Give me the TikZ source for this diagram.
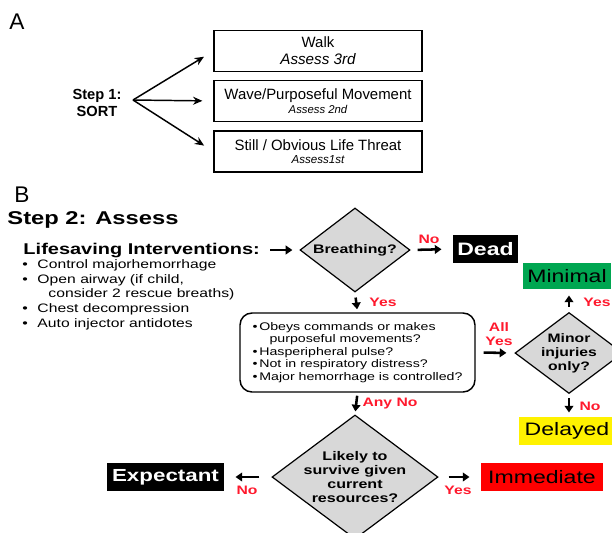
\documentclass[tikz,border=0pt]{standalone}
\usepackage{fontspec}
\setmainfont{Liberation Sans}
\newfontfamily\widefont[FakeStretch=1.28]{Liberation Sans}
\usetikzlibrary{shapes.geometric,arrows.meta}
\definecolor{diagray}{RGB}{216,216,216}
\definecolor{mingreen}{RGB}{0,166,81}
\definecolor{lblred}{RGB}{255,25,45}

\tikzset{every picture/.style={line width=0.75pt}}
\tikzset{
  sortbox/.style={draw, line width=0.9pt, minimum width=156pt, minimum height=30.75pt, align=center, inner sep=0pt},
  decide/.style={diamond, draw, fill=diagray, line width=0.9pt, inner sep=-3pt, align=center},
  catbox/.style={minimum height=21pt, inner sep=0pt, font=\widefont\fontsize{13.5}{16}\selectfont},
  lbl/.style={text=lblred, inner sep=0pt, align=center, font=\widefont\bfseries\fontsize{9.2}{10.5}\selectfont},
  sarrow/.style={-{Stealth[length=7pt,width=6pt]}, line width=1.1pt},
  barrow/.style={-{Triangle[length=5pt,width=6.5pt]}, line width=1.9pt},
}

\begin{document}
\begin{tikzpicture}[x=0.75pt,y=0.75pt,yscale=-1,xscale=1]
\useasboundingbox (0,0) rectangle (612,533);
\clip (0,0) rectangle (612,533);

% A: sort
\node (partA) at (17,22) {\fontsize{17}{20}\selectfont A};
\node (sort) [align=center, font=\bfseries\fontsize{11}{12.5}\selectfont] at (97,103) {Step 1:\\SORT};
\coordinate (fork) at (133,100);
\node (walk) [sortbox, font=\fontsize{11.2}{12.75}\selectfont] at (318,51) {Walk\\{\itshape\fontsize{11.4}{12.75}\selectfont Assess 3rd}};
\node (wave) [sortbox, font=\fontsize{11.2}{10.5}\selectfont] at (318,101) {Wave/Purposeful Movement\\{\itshape\fontsize{8.5}{10.5}\selectfont Assess 2nd}};
\node (still) [sortbox, font=\fontsize{11.2}{9.75}\selectfont] at (318,151.5) {Still / Obvious Life Threat\\{\itshape\fontsize{8.7}{9.75}\selectfont Assess1st}};
\draw [sarrow, shorten >=8.25pt] (fork) -- (walk.west);
\draw [sarrow, shorten >=8.25pt] (fork) -- (wave.west);
\draw [sarrow, shorten >=8.25pt] (fork) -- (still.west);

% B: assess
\node (partB) at (22,195) {\fontsize{17}{20}\selectfont B};
\node (step2) [anchor=west, inner sep=0pt, font=\widefont\bfseries\fontsize{13.9}{16}\selectfont] at (7,220) {Step 2: Assess};
\node (lsi) [anchor=west, inner sep=0pt, font=\widefont\bfseries\fontsize{11.7}{14}\selectfont] at (23,250) {Lifesaving Interventions:};
\node (lsilist) [anchor=north west, inner sep=0pt, align=left, font=\widefont\fontsize{9.2}{11}\selectfont] at (22,259) {\makebox[11.25pt][l]{•}Control majorhemorrhage\\
\makebox[11.25pt][l]{•}Open airway (if child,\\
\hspace*{19.5pt}consider 2 rescue breaths)\\
\makebox[11.25pt][l]{•}Chest decompression\\
\makebox[11.25pt][l]{•}Auto injector antidotes};

\node (breath) [decide, minimum width=82.5pt, minimum height=63pt, font=\widefont\bfseries\fontsize{9.3}{10.5}\selectfont] at (355,250) {Breathing?};
\node (dead) [catbox, fill=black, text=white, minimum width=48.75pt, font=\widefont\bfseries\fontsize{13.5}{16}\selectfont] at (485.5,249) {Dead};
\node (minimal) [catbox, fill=mingreen, minimum width=66pt, minimum height=19.5pt] at (567,276) {Minimal};
\node (check) [draw, rounded corners=9pt, line width=1.1pt, minimum width=176.25pt, minimum height=59.25pt, align=left, font=\widefont\fontsize{8.3}{9.4}\selectfont] at (357.5,352.5) {•\,Obeys commands or makes\\
\hspace*{12.75pt}purposeful movements?\\
•\,Hasperipheral pulse?\\
•\,Not in respiratory distress?\\
•\,Major hemorrhage is controlled?};
\node (minor) [decide, shape aspect=1.33, minimum width=81pt, minimum height=60.75pt, font=\widefont\bfseries\fontsize{9.2}{10.5}\selectfont] at (569,353) {Minor\\injuries\\only?};
\node (delayed) [catbox, fill=yellow, minimum width=72pt] at (567,431) {Delayed};
\node (likely) [decide, shape aspect=1.34, minimum width=124.5pt, minimum height=93pt, font=\widefont\bfseries\fontsize{9.4}{10.7}\selectfont] at (355,477) {Likely to\\survive given\\current\\resources?};
\node (immed) [catbox, fill=red, minimum width=91.5pt] at (542,477) {Immediate};
\node (expect) [catbox, fill=black, text=white, minimum width=87.75pt, font=\widefont\bfseries\fontsize{13.1}{16}\selectfont] at (165.5,477) {Expectant};

% arrows
\draw [barrow, shorten <=7.5pt, shorten >=5.25pt] (lsi.east) -- (breath.west);
\draw [barrow, shorten <=5.25pt, shorten >=8.25pt] (breath.east) -- (dead.west);
\draw [barrow, shorten <=3.75pt, shorten >=2.25pt] (breath.south) -- (check.north);
\draw [barrow, shorten <=2.25pt, shorten >=2.25pt] (check.south) -- (likely.north);
\draw [barrow, shorten <=6pt, shorten >=6pt] (check.east) -- (minor.west);
\draw [barrow, shorten <=3.75pt, shorten >=4.5pt] (minor.north) -- (minor.north |- minimal.south);
\draw [barrow, shorten <=3pt, shorten >=3pt] (minor.south) -- (minor.south |- delayed.north);
\draw [barrow, shorten <=7.5pt, shorten >=8.25pt] (likely.east) -- (immed.west);
\draw [barrow, shorten <=9pt, shorten >=8.25pt] (likely.west) -- (expect.east);

% labels
\node (nodead) [lbl] at (429,239) {No};
\node (yesbreath) [lbl] at (383,302) {Yes};
\node (allyes) [lbl] at (499,334) {All\\Yes};
\node (yesminor) [lbl] at (597,302) {Yes};
\node (nominor) [lbl] at (590,406) {No};
\node (anyno) [lbl] at (390,404) {Any No};
\node (yeslikely) [lbl] at (458,490) {Yes};
\node (nolikely) [lbl] at (247,490) {No};

\end{tikzpicture}
\end{document}
